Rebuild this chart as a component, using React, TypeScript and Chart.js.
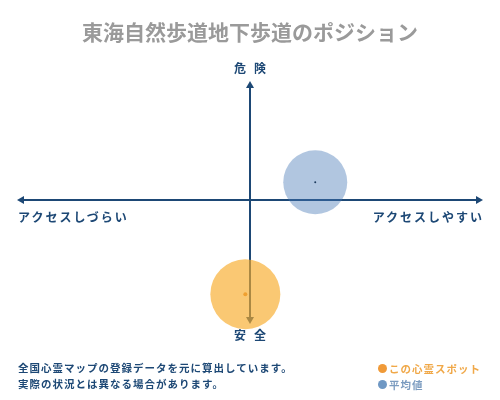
import React, { useEffect, useRef } from "react";
import { Chart, registerables } from "chart.js";

Chart.register(...registerables);

const title = "東海自然歩道地下歩道のポジション";
const seriesNames = ["この心霊スポット", "平均値"];
const accessValues = [-0.02, 0.28];
const dangerValues = [-0.79, 0.15];
const bubbleSizes = [35, 32];
const bubbleColors = ["rgba(247,170,40,0.65)", "rgba(70,120,180,0.42)"];
const centerDotColors = ["#f0a030", "#1d3b5e"];
const notes = ["全国心霊マップの登録データを元に算出しています。", "実際の状況とは異なる場合があります。"];

const NAVY = "#1d4875";
const FONT = '"Noto Sans CJK JP", "Noto Sans", sans-serif';

const axesPlugin = {
  id: "crossAxes",
  beforeDatasetsDraw(chart: any) {
    const { ctx, chartArea, scales } = chart;
    const cx = scales.x.getPixelForValue(0);
    const cy = scales.y.getPixelForValue(0);
    ctx.save();
    ctx.strokeStyle = NAVY;
    ctx.fillStyle = NAVY;
    ctx.lineWidth = 2;
    ctx.beginPath();
    ctx.moveTo(chartArea.left + 4, cy);
    ctx.lineTo(chartArea.right - 4, cy);
    ctx.moveTo(cx, chartArea.top + 4);
    ctx.lineTo(cx, chartArea.bottom - 4);
    ctx.stroke();
    const head = (x: number, y: number, dx: number, dy: number) => {
      ctx.beginPath();
      ctx.moveTo(x, y);
      ctx.lineTo(x - dx * 7 - dy * 4, y - dy * 7 - dx * 4);
      ctx.lineTo(x - dx * 7 + dy * 4, y - dy * 7 + dx * 4);
      ctx.closePath();
      ctx.fill();
    };
    head(chartArea.left, cy, -1, 0);
    head(chartArea.right, cy, 1, 0);
    head(cx, chartArea.top, 0, -1);
    head(cx, chartArea.bottom, 0, 1);
    ctx.restore();
  },
  afterDatasetsDraw(chart: any) {
    const { ctx } = chart;
    ctx.save();
    chart.data.datasets.forEach((ds: any, i: number) => {
      const pt = chart.getDatasetMeta(i).data[0];
      ctx.fillStyle = centerDotColors[i];
      ctx.beginPath();
      ctx.arc(pt.x, pt.y, i === 0 ? 2 : 1, 0, Math.PI * 2);
      ctx.fill();
    });
    ctx.restore();
  },
};

const App: React.FC = () => {
  const canvasRef = useRef<HTMLCanvasElement | null>(null);

  useEffect(() => {
    document.body.style.margin = "0";
    if (!canvasRef.current) return;
    const chart = new Chart(canvasRef.current, {
      type: "bubble",
      data: {
        datasets: seriesNames.map((name, i) => ({
          label: name,
          data: [{ x: accessValues[i], y: dangerValues[i], r: bubbleSizes[i] }],
          backgroundColor: bubbleColors[i],
          borderWidth: 0,
          clip: false as any,
        })),
      },
      options: {
        animation: false,
        responsive: false,
        devicePixelRatio: 1,
        layout: { autoPadding: false, padding: { left: 17, right: 17, top: 81, bottom: 76 } },
        scales: {
          x: { display: false, min: -1, max: 1 },
          y: { display: false, min: -1.04, max: 1 },
        },
        plugins: { legend: { display: false }, tooltip: { enabled: false } },
      },
      plugins: [axesPlugin],
    });
    return () => chart.destroy();
  }, []);

  const text = (style: React.CSSProperties, content: string) => (
    <div style={{ position: "absolute", fontFamily: FONT, fontWeight: 700, whiteSpace: "nowrap", ...style }}>{content}</div>
  );

  return (
    <div style={{ position: "relative", width: 500, height: 400, background: "#fff" }}>
      <canvas ref={canvasRef} width={500} height={400} style={{ position: "absolute", left: 0, top: 0 }} />
      {text({ left: 0, width: 500, top: 16, textAlign: "center", fontSize: 21, color: "#9a9a9a" }, title)}
      {text({ left: 0, width: 500, top: 59, textAlign: "center", fontSize: 12, color: NAVY, letterSpacing: 8, textIndent: 8 }, "危険")}
      {text({ left: 0, width: 500, top: 326, textAlign: "center", fontSize: 12, color: NAVY, letterSpacing: 8, textIndent: 8 }, "安全")}
      {text({ left: 18, top: 208, fontSize: 12, color: NAVY, letterSpacing: 2 }, "アクセスしづらい")}
      {text({ right: 16, top: 208, fontSize: 12, color: NAVY, letterSpacing: 2 }, "アクセスしやすい")}
      {text({ left: 18, top: 360, fontSize: 10.5, color: NAVY, letterSpacing: 1 }, notes[0])}
      {text({ left: 18, top: 376, fontSize: 10.5, color: NAVY, letterSpacing: 1 }, notes[1])}
      <div style={{ position: "absolute", left: 378, top: 361, fontFamily: FONT, fontSize: 10.5, fontWeight: 700, lineHeight: "16px", letterSpacing: 1 }}>
        <div style={{ color: "#f0a848" }}>
          <span style={{ display: "inline-block", width: 9, height: 9, borderRadius: "50%", background: "#f09a38", marginRight: 2 }} />
          {seriesNames[0]}
        </div>
        <div style={{ color: "#7c9cc0" }}>
          <span style={{ display: "inline-block", width: 9, height: 9, borderRadius: "50%", background: "#6f98c4", marginRight: 2 }} />
          {seriesNames[1]}
        </div>
      </div>
    </div>
  );
};

export default App;
